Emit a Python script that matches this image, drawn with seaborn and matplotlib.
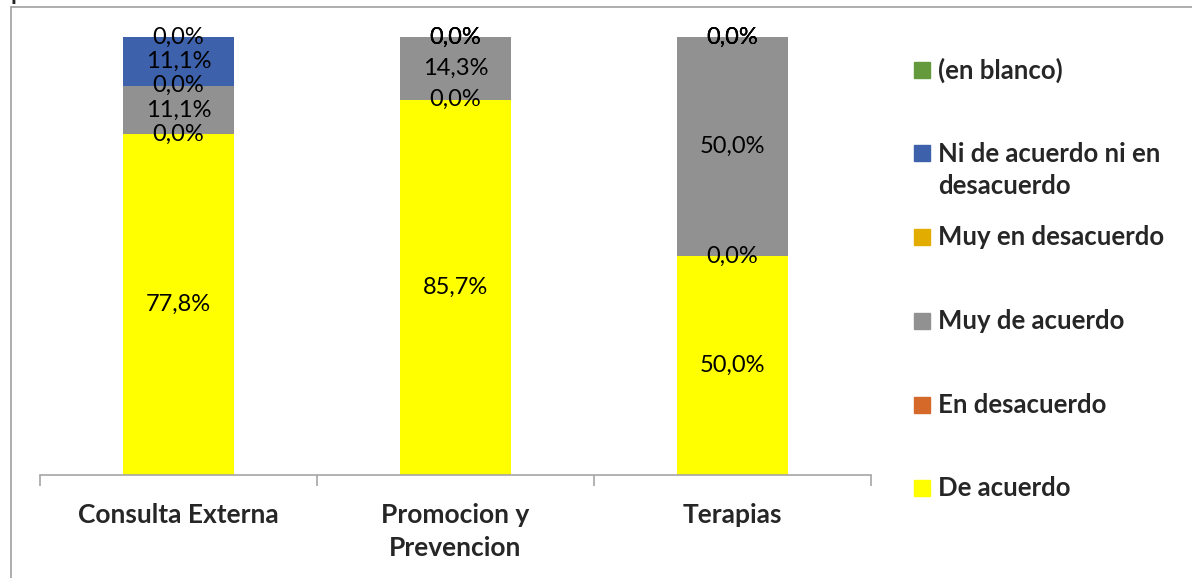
import numpy as np
import pandas as pd
import matplotlib
matplotlib.use("Agg")
import matplotlib.pyplot as plt
import seaborn as sns
from matplotlib.patches import Rectangle
from matplotlib.lines import Line2D

# -------------------------- datos --------------------------
categorias = ["Consulta Externa", "Promocion y\nPrevencion", "Terapias"]
# orden de apilado (de abajo hacia arriba)
series = ["De acuerdo", "En desacuerdo", "Muy de acuerdo",
          "Muy en desacuerdo", "Ni de acuerdo ni en desacuerdo", "(en blanco)"]
de_acuerdo = [77.8, 85.7, 50.0]
en_desacuerdo = [0.0, 0.0, 0.0]
muy_de_acuerdo = [11.1, 14.3, 50.0]
muy_en_desacuerdo = [0.0, 0.0, 0.0]
ni_ni = [11.1, 0.0, 0.0]
en_blanco = [0.0, 0.0, 0.0]
etiquetas_leyenda = ["(en blanco)", "Ni de acuerdo ni en\ndesacuerdo", "Muy en desacuerdo",
                     "Muy de acuerdo", "En desacuerdo", "De acuerdo"]

colores = {
    "De acuerdo": "#FFFF00",
    "En desacuerdo": "#D5692A",
    "Muy de acuerdo": "#919191",
    "Muy en desacuerdo": "#E3AC00",
    "Ni de acuerdo ni en desacuerdo": "#3D62AB",
    "(en blanco)": "#659A3C",
}

valores = np.array([de_acuerdo, en_desacuerdo, muy_de_acuerdo,
                    muy_en_desacuerdo, ni_ni, en_blanco])
acumulado = valores.cumsum(axis=0)

sns.set_style("white")
plt.rcParams['font.family'] = ['Lato', 'DejaVu Sans']

fig = plt.figure(figsize=(11.92, 5.78), dpi=100)
ax = fig.add_axes([40 / 1192, 1 - 475 / 578, 831 / 1192, 438 / 578])

# barras apiladas: se dibuja del acumulado mayor al menor
for i in range(len(series) - 1, -1, -1):
    df = pd.DataFrame({"cat": categorias, "val": acumulado[i]})
    sns.barplot(data=df, x="cat", y="val", color=colores[series[i]],
                width=0.4, saturation=1, ax=ax, edgecolor="none", linewidth=0)

# etiquetas de datos
for i in range(len(series)):
    for j in range(len(categorias)):
        centro = acumulado[i][j] - valores[i][j] / 2
        txt = f"{valores[i][j]:.1f}%".replace(".", ",")
        ax.text(j, centro, txt, ha="center", va="center", fontsize=17, color="black")

ax.set_xlim(-0.5, 2.5)
ax.set_ylim(0, 100)
ax.set_xlabel("")
ax.set_ylabel("")
ax.set_yticks([])
for s in ["left", "right", "top"]:
    ax.spines[s].set_visible(False)
ax.spines["bottom"].set_color("#A6A6A6")
ax.spines["bottom"].set_linewidth(1.2)
ax.set_xticks(range(len(categorias)))
ax.set_xticklabels(categorias, fontsize=19, fontweight="bold", linespacing=1.48)
ax.tick_params(axis="x", which="major", length=0, pad=20, bottom=True)
ax.set_xticks([-0.5, 0.5, 1.5, 2.5], minor=True)
ax.tick_params(axis="x", which="minor", length=8, color="#A6A6A6", width=1.2,
               bottom=True, direction="out")

# leyenda manual (estilo Excel)
y_leyenda = [70, 153, 237, 321, 405, 488]
for k, nombre in enumerate(etiquetas_leyenda):
    serie = series[len(series) - 1 - k]
    y = y_leyenda[k]
    fig.patches.append(Rectangle((914 / 1192, 1 - (y + 8) / 578), 16 / 1192, 16 / 578,
                                 transform=fig.transFigure, color=colores[serie]))
    if "\n" in nombre:
        fig.text(938 / 1192, 1 - (y - 11) / 578, nombre, ha="left", va="top",
                 fontsize=18.5, fontweight="bold", linespacing=1.42,
                 transform=fig.transFigure)
    else:
        fig.text(938 / 1192, 1 - y / 578, nombre, ha="left", va="center",
                 fontsize=18.5, fontweight="bold", transform=fig.transFigure)

# marco exterior y título recortado
fig.add_artist(Line2D([11 / 1192, 11 / 1192], [0, 1 - 7 / 578], transform=fig.transFigure,
                      color="#A0A0A0", linewidth=1.2))
fig.add_artist(Line2D([11 / 1192, 1], [1 - 7 / 578, 1 - 7 / 578], transform=fig.transFigure,
                      color="#A0A0A0", linewidth=1.2))
fig.text(10 / 1192, 1 + 7 / 578, "paciente", ha="left", va="center", fontsize=17,
         fontweight="bold")

fig.savefig("out.png", dpi=100, facecolor="white")
